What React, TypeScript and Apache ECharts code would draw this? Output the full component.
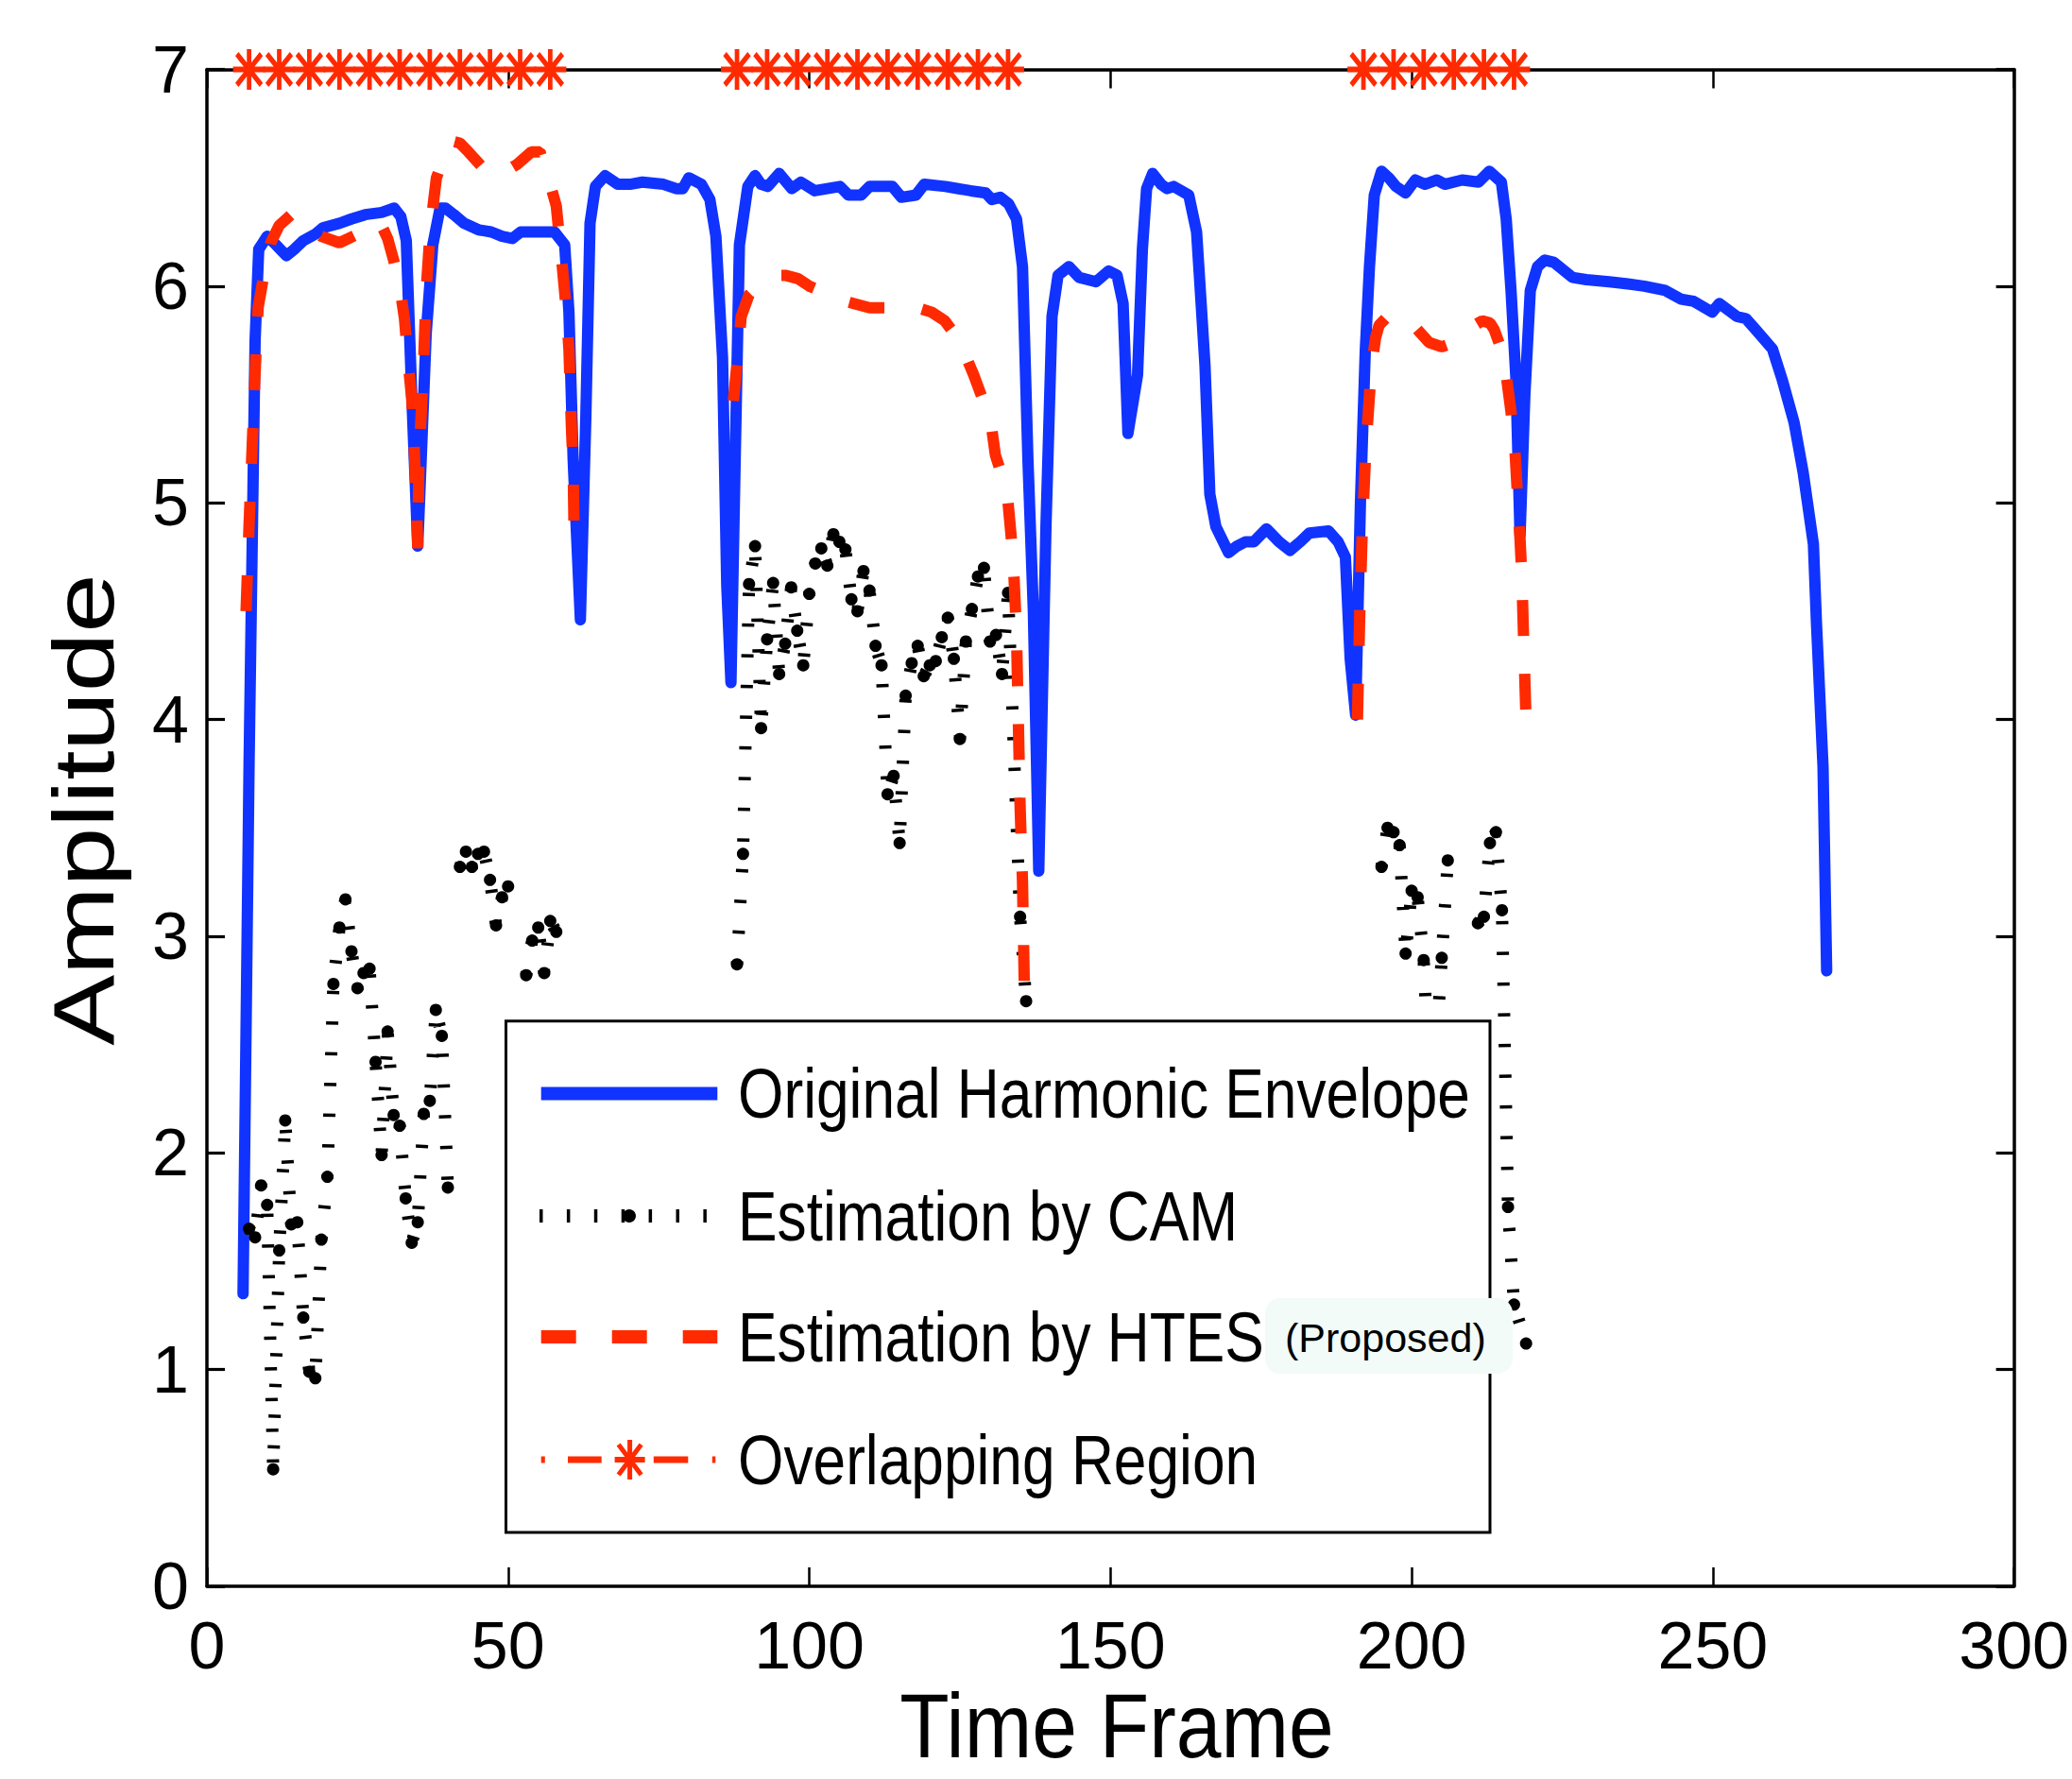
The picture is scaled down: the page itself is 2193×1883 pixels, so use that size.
import React, { useEffect, useRef } from "react";
import * as echarts from "echarts";

// ---------- axes ----------
const xMin = 0;
const xMax = 300;
const xStep = 50;
const yMin = 0;
const yMax = 7;
const yStep = 1;

// ---------- Original Harmonic Envelope [frame, amplitude] ----------
const originalEnvelope: [number, number][] = [
  [6, 1.35], [7, 3.8], [8, 5.75], [8.6, 6.17], [10, 6.23], [11.5, 6.19], [13.2, 6.14], [14.5, 6.17],
  [16, 6.21], [18, 6.24], [19.3, 6.27], [22, 6.29], [24, 6.31], [26.3, 6.33], [29, 6.34], [31.1, 6.36],
  [32.2, 6.32], [33.1, 6.21], [34, 5.5], [35, 4.8], [36.4, 5.78], [37.5, 6.19], [38.7, 6.36], [39.6, 6.36],
  [41, 6.33], [42.7, 6.29], [45.1, 6.26], [47.2, 6.25], [49, 6.23], [50.7, 6.22], [52.1, 6.25], [55, 6.25],
  [57.7, 6.25], [59.4, 6.19], [60.1, 5.88], [60.8, 5.2], [62, 4.46], [62.9, 5.39], [63.6, 6.29], [64.5, 6.46],
  [66.1, 6.51], [68.2, 6.47], [70.2, 6.47], [72.3, 6.48], [75.8, 6.47], [77.9, 6.45], [79, 6.45], [80, 6.5],
  [82.1, 6.47], [83.5, 6.4], [84.5, 6.23], [85.6, 5.67], [86.3, 4.62], [87, 4.17], [87.7, 5.2], [88.4, 6.19],
  [89.8, 6.46], [91, 6.51], [92, 6.47], [93.1, 6.46], [95, 6.52], [97.1, 6.45], [98.6, 6.48], [100.9, 6.44],
  [103, 6.45], [105.1, 6.46], [106.5, 6.42], [108.6, 6.42], [110, 6.46], [113.8, 6.46], [115.3, 6.41],
  [117.7, 6.42], [119.1, 6.47], [122.6, 6.46], [126.8, 6.44], [129.3, 6.43], [130.3, 6.4], [131.7, 6.41],
  [133.1, 6.38], [134.4, 6.31], [135.4, 6.09], [136.3, 5.2], [137.2, 4.5], [138.1, 3.3], [139.3, 4.9],
  [140.3, 5.86], [141.3, 6.05], [143.1, 6.09], [144.8, 6.04], [147.6, 6.02], [149.7, 6.07], [151.1, 6.05],
  [152.1, 5.92], [152.9, 5.32], [154.5, 5.59], [155.3, 6.17], [156, 6.45], [157, 6.52], [158.4, 6.47],
  [159.4, 6.45], [160.5, 6.46], [163, 6.42], [164.3, 6.25], [165.1, 5.9], [165.7, 5.63], [166.5, 5.04],
  [167.5, 4.89], [169.6, 4.77], [171, 4.8], [172.4, 4.82], [173.8, 4.82], [175.9, 4.88], [178, 4.82],
  [179.8, 4.78], [181.5, 4.82], [183, 4.86], [186.2, 4.87], [187.8, 4.82], [189, 4.75], [189.8, 4.28],
  [190.7, 4.02], [191.5, 5.0], [192.3, 5.7], [193, 6.09], [193.8, 6.42], [195, 6.53], [196.2, 6.5],
  [197.4, 6.46], [199, 6.43], [200.6, 6.49], [202.2, 6.47], [204.2, 6.49], [205.5, 6.47], [208.4, 6.49],
  [211.1, 6.48], [212.9, 6.53], [214.9, 6.48], [215.7, 6.31], [216.5, 5.98], [217.3, 5.58], [218, 4.85],
  [218.8, 5.5], [219.7, 5.98], [220.9, 6.09], [222.1, 6.12], [223.6, 6.11], [226.7, 6.04], [229, 6.03],
  [232.8, 6.02], [235.9, 6.01], [238.6, 6.0], [242.1, 5.98], [244.7, 5.94], [246.8, 5.93], [249.9, 5.88],
  [251.1, 5.92], [254, 5.86], [255.5, 5.85], [257.1, 5.8], [259.9, 5.71], [261.5, 5.57], [263.5, 5.37],
  [265, 5.14], [266.7, 4.81], [267.2, 4.45], [268.3, 3.78], [268.9, 2.84],
];

// ---------- Estimation by CAM [frame, amplitude] ('-' = no estimate) ----------
const camRegion1: [number, number | string][] = [
  [7, 1.65], [8, 1.61], [9, 1.85], [10, 1.76], [11, 0.54], [12, 1.55], [13, 2.15], [14, 1.67],
  [15, 1.68], [16, 1.24], [17, 0.99], [18, 0.96], [19, 1.6], [20, 1.89], [21, 2.78], [22, 3.04],
  [23, 3.17], [24, 2.93], [25, 2.76], [26, 2.83], [27, 2.85], [28, 2.42], [29, 1.99], [30, 2.56],
  [31, 2.175], [32, 2.125], [33, 1.79], [34, 1.585], [35, 1.68], [36, 2.18], [37, 2.24], [38, 2.66],
  [39, 2.54], [40, 1.84], [41, "-"], [42, 3.32], [43, 3.39], [44, 3.32], [45, 3.38], [46, 3.39],
  [47, 3.26], [48, 3.05], [49, 3.18], [50, 3.23], [51, "-"], [52, "-"], [53, 2.82], [54, 2.98],
  [55, 3.04], [56, 2.83], [57, 3.07], [58, 3.02],
];
const camRegion2: [number, number | string][] = [
  [88, 2.87], [89, 3.38], [90, 4.625], [91, 4.8], [92, 3.96], [93, 4.37], [94, 4.63], [95, 4.21],
  [96, 4.35], [97, 4.61], [98, 4.41], [99, 4.25], [100, 4.58], [101, 4.72], [102, 4.79], [103, 4.71],
  [104, 4.855], [105, 4.82], [106, 4.785], [107, 4.555], [108, 4.5], [109, 4.685], [110, 4.595],
  [111, 4.34], [112, 4.25], [113, 3.655], [114, 3.74], [115, 3.43], [116, 4.11], [117, 4.26],
  [118, 4.34], [119, 4.2], [120, 4.25], [121, 4.27], [122, 4.38], [123, 4.47], [124, 4.28], [125, 3.91],
  [126, 4.36], [127, 4.51], [128, 4.66], [129, 4.7], [130, 4.36], [131, 4.39], [132, 4.21], [133, 4.585],
  [135, 3.09], [136, 2.7],
];
const camRegion3: [number, number | string][] = [
  [195, 3.32], [196, 3.5], [197, 3.48], [198, 3.42], [199, 2.92], [200, 3.21], [201, 3.18], [202, 2.89],
  [203, 2.3], [204, 2.45], [205, 2.9], [206, 3.35], [207, "-"], [208, "-"], [209, "-"], [210, "-"],
  [211, 3.06], [212, 3.09], [213, 3.43], [214, 3.48], [215, 3.12], [216, 1.75], [217, 1.3], [219, 1.12],
];

// ---------- Estimation by HTES (Proposed) [frame, amplitude] ----------
const htesRegion1: [number, number][] = [
  [6.5, 4.5], [7, 4.9], [7.5, 5.25], [8, 5.6], [8.5, 5.9], [9.5, 6.06], [10.6, 6.2], [12, 6.28],
  [14, 6.33], [16, 6.3], [19, 6.23], [22, 6.2], [25, 6.24], [27.3, 6.3], [29, 6.28], [30, 6.22],
  [31, 6.12], [32, 6.0], [32.8, 5.85], [33.3, 5.68], [34, 5.48], [34.4, 5.26], [34.8, 5.0], [35, 4.79],
  [35.2, 5.2], [35.9, 5.59], [36.4, 5.98], [37.1, 6.27], [38.1, 6.5], [39.4, 6.6], [40.6, 6.67],
  [42, 6.66], [43.4, 6.62], [46, 6.54], [48, 6.51], [49, 6.52], [51.4, 6.56], [53.9, 6.62], [55.3, 6.62],
  [57, 6.47], [58, 6.37], [59, 6.09], [59.6, 5.91], [60.1, 5.71], [60.5, 5.36], [60.8, 5.16], [61, 4.78],
];
const htesRegion2: [number, number][] = [
  [87.4, 5.47], [88.2, 5.7], [88.7, 5.86], [90, 5.96], [92.2, 6.02], [94, 6.05], [96, 6.05], [98.1, 6.035],
  [100, 6.0], [103.5, 5.96], [106, 5.93], [110, 5.9], [115.5, 5.9], [118, 5.9], [120.3, 5.88],
  [122.5, 5.84], [124.9, 5.75], [127.3, 5.59], [128.5, 5.5], [130.1, 5.38], [130.9, 5.22], [132.3, 5.1],
  [133, 5.0], [133.5, 4.85], [134, 4.65], [134.4, 4.4], [134.7, 4.0], [135, 3.6], [135.4, 3.25],
  [135.7, 2.77],
];
const htesRegion3: [number, number][] = [
  [191, 4.0], [191.4, 4.5], [191.8, 4.87], [192.4, 5.25], [193.3, 5.62], [194, 5.76], [194.6, 5.82],
  [196, 5.86], [198.4, 5.86], [200.3, 5.82], [202.9, 5.74], [205, 5.72], [207, 5.74], [208.9, 5.79],
  [210.5, 5.82], [211.7, 5.84], [213, 5.83], [213.7, 5.8], [215, 5.7], [215.7, 5.59], [216.5, 5.42],
  [217.2, 5.22], [217.6, 5.02], [218, 4.83], [218.3, 4.66], [218.5, 4.46], [218.7, 4.27], [219.1, 3.9],
];

// ---------- Overlapping Region markers ----------
const overlapFrames1 = [7, 12, 17, 22, 27, 32, 37, 42, 47, 52, 57];
const overlapFrames2 = [88, 93, 98, 103, 108, 113, 118, 123, 128, 133];
const overlapFrames3 = [192, 197, 202, 207, 212, 217];
const overlapLevel = 7;

const legendLabels = [
  "Original Harmonic Envelope",
  "Estimation by CAM",
  "Estimation by HTES",
  "Overlapping Region",
];
const proposedNote = "(Proposed)";
const xTitle = "Time Frame";
const yTitle = "Amplitude";

// ---------- styles ----------
const BLUE = "#1133ff";
const RED = "#ff2a00";
const FONT = "'Liberation Sans', Arial, Helvetica, sans-serif";
const STAR_PATH =
  "path://M43 0H57V100H43Z M0 43H100V57H0Z M17 7L93 83L83 93L7 17Z M83 7L93 17L17 93L7 83Z";

function joinRegions(regions: any[][]): any[] {
  const out: any[] = [];
  regions.forEach((r, i) => {
    if (i > 0) {
      const prev = regions[i - 1];
      out.push([(prev[prev.length - 1][0] + r[0][0]) / 2, "-"]);
    }
    out.push(...r);
  });
  return out;
}

const TOP_Z = 100;

function buildLegend(): any[] {
  const left = 535.5, top = 1080.7, right = 1577, bottom = 1622;
  const x1 = 572.7, x2 = 759.3, tx = 781;
  const rows = [1157.5, 1287, 1415, 1545];
  const textEl = (text: string, y: number) => ({
    type: "text",
    z: TOP_Z + 2,
    x: tx,
    y,
    scaleX: 0.83,
    silent: true,
    style: {
      text,
      fontSize: 75,
      fontFamily: FONT,
      fill: "#000",
      align: "left",
      verticalAlign: "middle",
      textAlign: "left",
      textVerticalAlign: "middle",
    },
  });
  const ln = (xa: number, ya: number, xb: number, yb: number, stroke: string, lineWidth: number, extra: any = {}) => ({
    type: "line",
    z: TOP_Z + 1,
    silent: true,
    shape: { x1: xa, y1: ya, x2: xb, y2: yb },
    style: { stroke, lineWidth, ...extra },
  });
  const cx = 666.6, cy = rows[3];
  return [
    {
      type: "rect",
      z: TOP_Z,
      silent: true,
      shape: { x: left, y: top, width: right - left, height: bottom - top },
      style: { fill: "#fff", stroke: "#000", lineWidth: 3 },
    },
    // row 1: blue solid
    ln(x1, rows[0], x2, rows[0], BLUE, 14),
    // row 2: dotted black with dot
    ln(571, rows[1], 762, rows[1], "#000", 14, { lineDash: [3.5, 25.4], lineCap: "butt" }),
    { type: "circle", z: TOP_Z + 1, silent: true, shape: { cx: 666, cy: rows[1], r: 7 }, style: { fill: "#000" } },
    // row 3: red dashed
    ln(x1, rows[2], x2, rows[2], RED, 14, { lineDash: [37, 38], lineCap: "butt" }),
    // row 4: dash-dot red with star
    ln(572.7, cy, 576.8, cy, RED, 7),
    ln(601, cy, 636.7, cy, RED, 7),
    ln(691.8, cy, 728.3, cy, RED, 7),
    ln(753.8, cy, 757.3, cy, RED, 7),
    ln(cx, cy - 21, cx, cy + 21, RED, 5),
    ln(cx - 16, cy, cx + 16, cy, RED, 6),
    ln(cx - 12, cy - 16, cx + 12, cy + 16, RED, 5),
    ln(cx + 12, cy - 16, cx - 12, cy + 16, RED, 5),
    ...legendLabels.map((t, i) => textEl(t, rows[i])),
    // "(Proposed)" note with light background
    {
      type: "rect",
      z: TOP_Z + 3,
      silent: true,
      shape: { x: 1339, y: 1374, width: 262, height: 80, r: 16 },
      style: { fill: "#f2fbf8" },
    },
    {
      type: "text",
      z: TOP_Z + 4,
      x: 1360,
      y: 1416,
      silent: true,
      style: {
        text: proposedNote,
        fontSize: 43,
        fontFamily: FONT,
        fill: "#000",
        align: "left",
        verticalAlign: "middle",
        textAlign: "left",
        textVerticalAlign: "middle",
      },
    },
  ];
}

function buildOption() {
  const axisLine = { show: true, onZero: false, lineStyle: { color: "#000", width: 3.5 } };
  const xTick = { show: true, inside: true, length: 20, lineStyle: { color: "#000", width: 2.5 } };
  const yTick = { show: true, inside: true, length: 19, lineStyle: { color: "#000", width: 3.2 } };
  const label = { fontSize: 70, fontFamily: FONT, color: "#000" };

  const camData = joinRegions([camRegion1, camRegion2, camRegion3]);
  const htesData = joinRegions([htesRegion1, htesRegion2, htesRegion3]);
  const overlapData = joinRegions(
    [overlapFrames1, overlapFrames2, overlapFrames3].map((g) => g.map((f) => [f, overlapLevel]))
  );

  return {
    animation: false,
    backgroundColor: "#fff",
    grid: { left: 219, right: 53, top: 73.5, bottom: 204, containLabel: false },
    xAxis: [
      {
        type: "value", min: xMin, max: xMax, interval: xStep, position: "bottom",
        axisLine, axisTick: xTick, splitLine: { show: false },
        axisLabel: { ...label, margin: 28 },
      },
      {
        type: "value", min: xMin, max: xMax, interval: xStep, position: "top",
        axisLine, axisTick: xTick, splitLine: { show: false }, axisLabel: { show: false },
      },
    ],
    yAxis: [
      {
        type: "value", min: yMin, max: yMax, interval: yStep, position: "left",
        axisLine, axisTick: yTick, splitLine: { show: false },
        axisLabel: { ...label, margin: 19 },
      },
      {
        type: "value", min: yMin, max: yMax, interval: yStep, position: "right",
        axisLine, axisTick: yTick, splitLine: { show: false }, axisLabel: { show: false },
      },
    ],
    series: [
      {
        name: legendLabels[0],
        type: "line",
        data: originalEnvelope,
        showSymbol: false,
        silent: true,
        emphasis: { disabled: true },
        lineStyle: { color: BLUE, width: 12, cap: "round", join: "round" },
        z: 2,
      },
      {
        name: legendLabels[1],
        type: "line",
        data: camData,
        symbol: "circle",
        symbolSize: 13,
        showSymbol: true,
        silent: true,
        emphasis: { disabled: true },
        itemStyle: { color: "#000" },
        lineStyle: { color: "#000", width: 13, type: [3.5, 29], cap: "butt" },
        z: 3,
      },
      {
        name: legendLabels[2],
        type: "line",
        data: htesData,
        showSymbol: false,
        silent: true,
        emphasis: { disabled: true },
        lineStyle: { color: RED, width: 12, type: [38, 40], cap: "butt" },
        z: 4,
      },
      {
        name: legendLabels[3],
        type: "line",
        data: overlapData,
        symbol: STAR_PATH,
        symbolSize: [34, 43],
        showSymbol: true,
        clip: false,
        silent: true,
        emphasis: { disabled: true },
        itemStyle: { color: RED },
        lineStyle: { color: RED, width: 5 },
        z: 5,
      },
    ],
    graphic: [
      {
        type: "text",
        z: TOP_Z,
        x: 88,
        y: 857,
        rotation: Math.PI / 2,
        scaleX: 1.235,
        silent: true,
        style: {
          text: yTitle, fontSize: 91, fontFamily: FONT, fill: "#000",
          align: "center", verticalAlign: "middle", textAlign: "center", textVerticalAlign: "middle",
        },
      },
      {
        type: "text",
        z: TOP_Z,
        x: 1182,
        y: 1827,
        scaleX: 0.894,
        silent: true,
        style: {
          text: xTitle, fontSize: 96, fontFamily: FONT, fill: "#000",
          align: "center", verticalAlign: "middle", textAlign: "center", textVerticalAlign: "middle",
        },
      },
      ...buildLegend(),
    ],
  };
}

export default function App() {
  const ref = useRef<HTMLDivElement>(null);
  useEffect(() => {
    if (!ref.current) return;
    const chart = echarts.init(ref.current, null, { renderer: "svg" });
    chart.setOption(buildOption() as any);
    return () => chart.dispose();
  }, []);
  return (
    <div
      ref={ref}
      style={{ position: "absolute", left: 0, top: 0, width: 2193, height: 1883, background: "#fff" }}
    />
  );
}
